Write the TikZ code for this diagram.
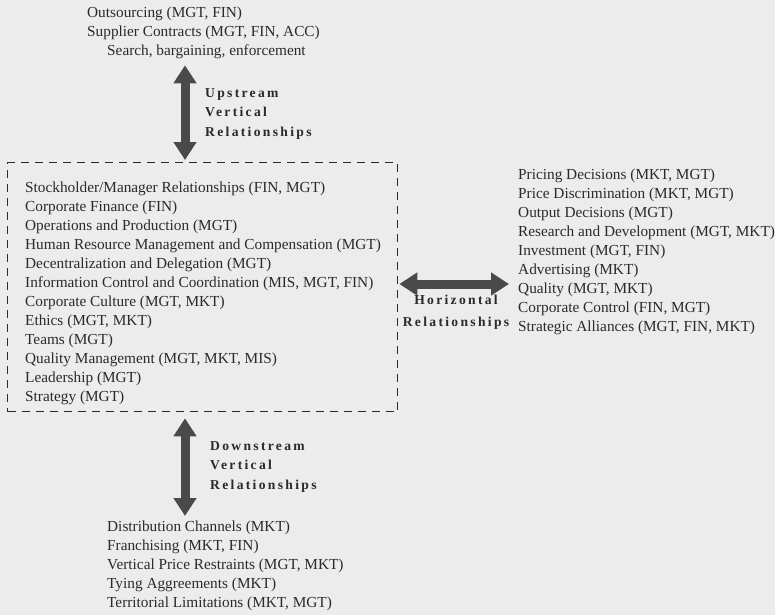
\documentclass[tikz,border=0pt]{standalone}
\usepackage{fontspec}
\setmainfont{Liberation Serif}
\newfontfamily\spacedfont{Liberation Serif}[LetterSpace=17]
\usetikzlibrary{arrows.meta,positioning,calc}
\definecolor{paper}{HTML}{ECECEC}
\definecolor{ink}{HTML}{2A2A2A}
\definecolor{arrowgray}{HTML}{4A4A4A}

\begin{document}
\begin{tikzpicture}[x=1pt,y=-1pt,
  itemlist/.style={align=left, inner sep=0pt, anchor=north west, text=ink, font=\fontsize{15.3}{19}\selectfont},
  rellabel/.style={align=left, inner sep=0pt, text=ink, font=\fontsize{13.6}{19.5}\selectfont\spacedfont\bfseries},
  bigarrow/.style={{Triangle[width=22pt,length=18pt]}-{Triangle[width=22pt,length=18pt]}, line width=9pt, arrowgray},
  firmbox/.style={draw=ink, dash pattern=on 8pt off 6pt, line width=1.3pt, minimum width=390pt, minimum height=249pt, anchor=north west, inner sep=0pt}
]
  \fill[paper] (0,0) rectangle (775,615);

  % the firm and its three kinds of relationships
  \node[firmbox] (firm) at (7,162) {};
  \node[itemlist] (firmlist) at (25,182) {Stockholder/Manager Relationships (FIN, MGT)\\
    Corporate Finance (FIN)\\
    Operations and Production (MGT)\\
    Human Resource Management and Compensation (MGT)\\
    Decentralization and Delegation (MGT)\\
    Information Control and Coordination (MIS, MGT, FIN)\\
    Corporate Culture (MGT, MKT)\\
    Ethics (MGT, MKT)\\
    Teams (MGT)\\
    Quality Management (MGT, MKT, MIS)\\
    Leadership (MGT)\\
    Strategy (MGT)};
  \node[itemlist] (uplist) at (87,7) {Outsourcing (MGT, FIN)\\
    Supplier Contracts (MGT, FIN, ACC)\\
    \hspace*{20pt}Search, bargaining, enforcement};
  \node[itemlist] (hlist) at (518,169) {Pricing Decisions (MKT, MGT)\\
    Price Discrimination (MKT, MGT)\\
    Output Decisions (MGT)\\
    Research and Development (MGT, MKT)\\
    Investment (MGT, FIN)\\
    Advertising (MKT)\\
    Quality (MGT, MKT)\\
    Corporate Control (FIN, MGT)\\
    Strategic Alliances (MGT, FIN, MKT)};
  \node[itemlist] (downlist) at (107,521) {Distribution Channels (MKT)\\
    Franchising (MKT, FIN)\\
    Vertical Price Restraints (MGT, MKT)\\
    Tying Aggreements (MKT)\\
    Territorial Limitations (MKT, MGT)};

  \coordinate (vx) at (185,0);
  \coordinate (hy) at (0,284);

  \draw[bigarrow, shorten <=6pt, shorten >=2pt] (uplist.south -| vx) -- (firm.north -| vx);
  \draw[bigarrow, shorten <=6pt, shorten >=5pt] (firm.south -| vx) -- (downlist.north -| vx);
  \draw[bigarrow, shorten <=1pt, shorten >=9pt] (firm.east |- hy) -- (hlist.west |- hy);

  \node[rellabel, anchor=north west] (uplabel) at (205,88) {Upstream\\Vertical\\Relationships};
  \node[rellabel, anchor=north west] (downlabel) at (210,441) {Downstream\\Vertical\\Relationships};
  \node[rellabel, align=center, anchor=north, font=\fontsize{13.6}{22}\selectfont\spacedfont\bfseries] (hlabel) at (456,295) {Horizontal\\Relationships};
\end{tikzpicture}
\end{document}
